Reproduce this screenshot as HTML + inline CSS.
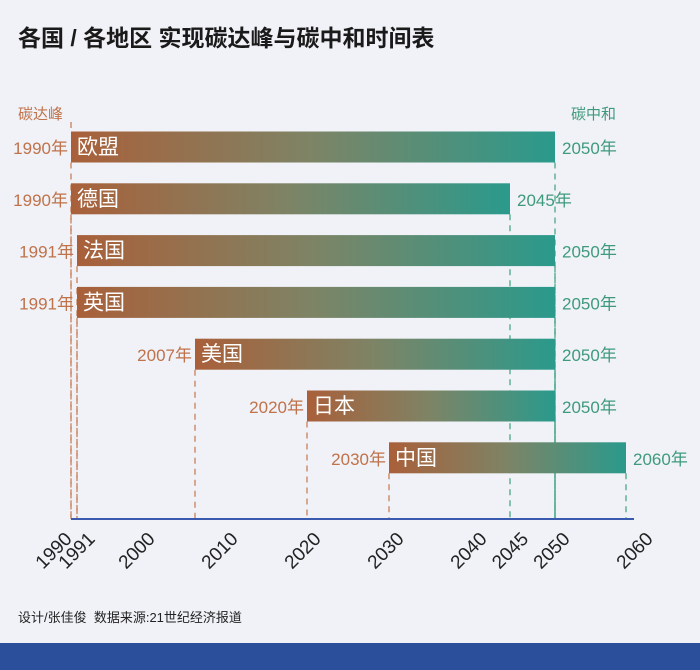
<!DOCTYPE html>
<html><head><meta charset="utf-8"><style>
body{margin:0;background:#f0f2f7;}
#wrap{position:relative;width:700px;height:670px;background:#f0f2f7;font-family:"Liberation Sans","Noto Sans CJK SC",sans-serif;overflow:hidden}
svg text{font-family:"Liberation Sans","Noto Sans CJK SC",sans-serif}
</style></head><body>
<div id="wrap">
<svg id="svg" width="700" height="670" xmlns="http://www.w3.org/2000/svg">
<text x="18" y="46" font-size="23" font-weight="bold" fill="#1a1a1a">各国 / 各地区 实现碳达峰与碳中和时间表</text>
<text x="18" y="119" font-size="15" fill="#c0724a">碳达峰</text>
<text x="571" y="119" font-size="15" fill="#3f9a7c">碳中和</text>
<text x="18" y="622" font-size="13" fill="#222">设计/张佳俊&#160;&#160;数据来源:21世纪经济报道</text>
<rect x="0" y="643" width="700" height="27" fill="#2c4f9c"/>
<g id="g"></g>
</svg>
</div>
<script>
const countries=["欧盟","德国","法国","英国","美国","日本","中国"];
const peakYears=[1990,1990,1991,1991,2007,2020,2030];
const neutralYears=[2050,2045,2050,2050,2050,2050,2060];
const tickYears=[1990,1991,2000,2010,2020,2030,2040,2045,2050,2060];

const anchorsYear=[1990,1991,2007,2020,2030,2045,2050,2060];
const anchorsPx=[71,77,195,307,389,510,555,626];
function x(y){
  for(let i=0;i<anchorsYear.length-1;i++){
    if(y<=anchorsYear[i+1]){const t=(y-anchorsYear[i])/(anchorsYear[i+1]-anchorsYear[i]);return anchorsPx[i]+t*(anchorsPx[i+1]-anchorsPx[i]);}
  }
  return anchorsPx[anchorsPx.length-1];
}
function xl(y){return y===1991?96:73+(y-1990)*8.3;}
function rowY(i){return 147+i*51.8;}
const NS="http://www.w3.org/2000/svg",g=document.getElementById('g');
function mk(t,a){const e=document.createElementNS(NS,t);for(const k in a)e.setAttribute(k,a[k]);return e;}
const axisY=519;
const defs=mk('defs',{});g.appendChild(defs);
countries.forEach((c,i)=>{
  const cy=rowY(i),x0=x(peakYears[i]),x1=x(neutralYears[i]),h=31;
  const lg=mk('linearGradient',{id:'gr'+i,x1:'0',x2:'1',y1:'0',y2:'0'});
  lg.appendChild(mk('stop',{offset:'0','stop-color':'#a9603a'}));
  lg.appendChild(mk('stop',{offset:'0.5','stop-color':'#7d8466'}));
  lg.appendChild(mk('stop',{offset:'1','stop-color':'#2a9a8c'}));
  defs.appendChild(lg);
  const l1=mk('line',{x1:x0,x2:x0,y1:cy+h/2,y2:axisY,stroke:'#c9805a','stroke-width':1.3,'stroke-dasharray':'6,5'});
  
  
  g.appendChild(l1);
  const l2=mk('line',{x1:x1,x2:x1,y1:cy+h/2,y2:axisY,stroke:'#4aa888','stroke-width':1.3,'stroke-dasharray':'6,5'});
  
  
  g.appendChild(l2);
  const r=mk('rect',{x:x0,y:cy-h/2,width:x1-x0,height:h,fill:'url(#gr'+i+')'});
  
  
  g.appendChild(r);
  const n=mk('text',{x:x0+6,y:cy+7,'font-size':21,fill:'#fff'});n.textContent=c;
  
  
  g.appendChild(n);
  const p=mk('text',{x:x0-3,y:cy+7,'font-size':17,fill:'#c0724a','text-anchor':'end'});p.textContent=peakYears[i]+'年';
  
  
  g.appendChild(p);
  const q=mk('text',{x:x1+7,y:cy+7,'font-size':17,fill:'#3f9a7c'});q.textContent=neutralYears[i]+'年';
  
  
  g.appendChild(q);
});
const peakTop=mk('line',{x1:71,x2:71,y1:122,y2:131,stroke:'#c9805a','stroke-width':1.3,'stroke-dasharray':'6,5'});


g.appendChild(peakTop);
const ax=mk('line',{x1:71,x2:634,y1:axisY,y2:axisY,stroke:'#3a5ab0','stroke-width':2});


g.appendChild(ax);
tickYears.forEach(t=>{
  const px=xl(t),py=540;
  const tx=mk('text',{x:px,y:py,'font-size':19,fill:'#222','text-anchor':'end',transform:'rotate(-45 '+px+' '+py+')'});
  tx.textContent=t;
  
  
  g.appendChild(tx);
});
</script>
</body></html>
